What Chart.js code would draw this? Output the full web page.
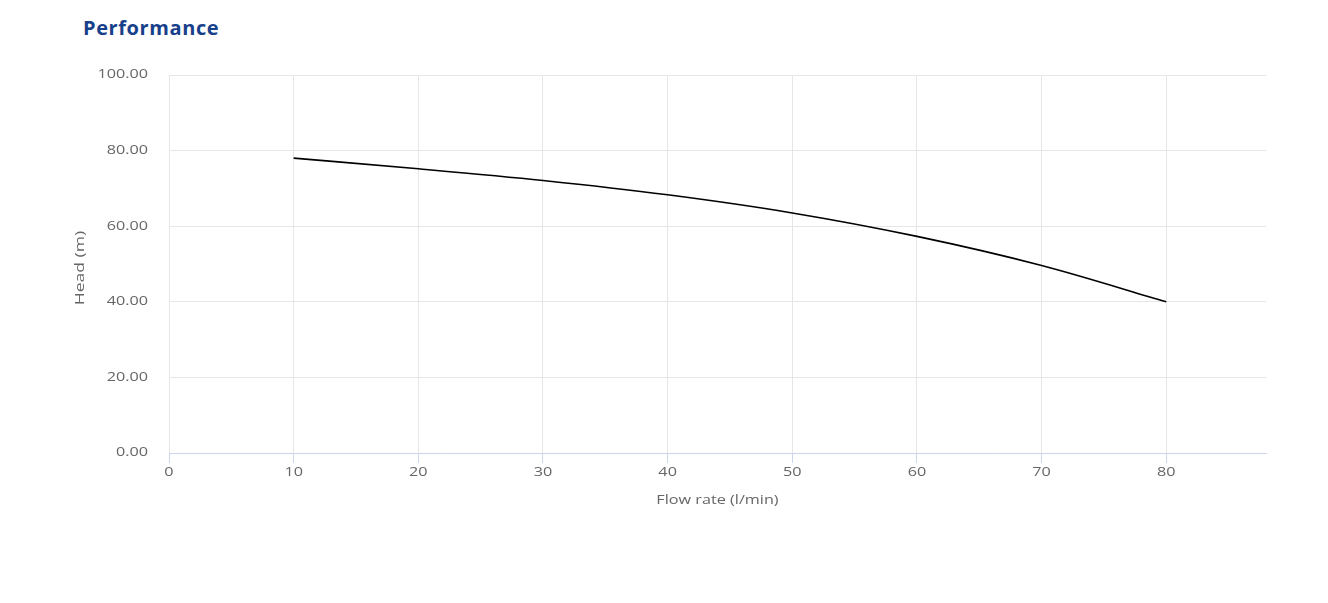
<!DOCTYPE html>
<html>
<head>
<meta charset="utf-8">
<title>Performance</title>
<script src="https://cdn.jsdelivr.net/npm/chart.js@4"></script>
<style>
  html, body { margin: 0; padding: 0; background: #fff; }
  #wrap { position: relative; width: 1328px; height: 603px; }
  #title {
    position: absolute; left: 83px; top: 14px;
    font-family: "Open Sans", sans-serif; font-weight: bold; font-size: 20px;
    letter-spacing: 0.6px;
    color: #17408b;
  }
  canvas { position: absolute; left: 0; top: 0; }
</style>
</head>
<body>
<div id="wrap">
  <div id="title">Performance</div>
  <canvas id="perf-chart" width="1328" height="603"></canvas>
</div>
<script>
// 数据
const flowRate = [10, 20, 30, 40, 50, 60, 70, 80];
const head = [78.0, 75.2, 72.1, 68.3, 63.5, 57.3, 49.6, 40.0];
const xTicks = [0, 10, 20, 30, 40, 50, 60, 70, 80];
const yTicks = [0, 20, 40, 60, 80, 100];
const yTitle = 'Head (m)';

// 原图的文字被拉宽了，这里把 fillText 沿文字方向放大
const stretchX = 1.35;
const ctx = document.getElementById('perf-chart').getContext('2d');
const plainFillText = ctx.fillText.bind(ctx);
ctx.fillText = function(text, x, y, maxWidth) {
    ctx.save();
    ctx.translate(x, y);
    ctx.scale(stretchX, 1);
    if (maxWidth !== undefined) {
        plainFillText(text, 0, 0, maxWidth / stretchX);
    } else {
        plainFillText(text, 0, 0);
    }
    ctx.restore();
};

// 纵轴标题单独画
const yTitlePlugin = {
    id: 'yTitle',
    afterDraw(chart) {
        const c = chart.ctx;
        const area = chart.chartArea;
        c.save();
        c.font = '13px "Open Sans"';
        c.fillStyle = '#666666';
        c.textAlign = 'center';
        c.textBaseline = 'middle';
        c.translate(80, (area.top + area.bottom) / 2 + 4);
        c.rotate(-Math.PI / 2);
        c.fillText(yTitle, 0, 0);
        c.restore();
    }
};

const perfChart = new Chart(ctx, {
    type: 'line',
    data: {
        datasets: [{
            label: 'Head',
            data: flowRate.map((x, i) => ({ x, y: head[i] })),
            borderColor: '#000000',
            borderWidth: 1.6,
            pointRadius: 0,
            cubicInterpolationMode: 'monotone',
            fill: false
        }]
    },
    options: {
        responsive: false,
        animation: false,
        layout: { padding: { left: 0, right: 62, top: 75, bottom: 90 } },
        plugins: { legend: { display: false }, tooltip: { enabled: false } },
        scales: {
            x: {
                type: 'linear',
                min: 0,
                max: 88,
                afterBuildTicks: (scale) => { scale.ticks = xTicks.map(v => ({ value: v })); },
                afterFit: (scale) => { scale.height = 60; },
                grid: { color: '#e6e6e6', tickColor: '#ccd6eb', tickLength: 10 },
                border: { color: '#ccd6eb', width: 1 },
                ticks: {
                    padding: 2,
                    color: '#666666',
                    font: { family: 'Open Sans', size: 12 },
                    maxRotation: 0
                },
                title: {
                    display: true,
                    text: 'Flow rate (l/min)',
                    color: '#666666',
                    font: { family: 'Open Sans', size: 12 },
                    padding: { top: 0, bottom: 5 }
                }
            },
            y: {
                min: 0,
                max: 100,
                afterBuildTicks: (scale) => { scale.ticks = yTicks.map(v => ({ value: v })); },
                afterFit: (scale) => { scale.width = 169; },
                grid: { color: '#e6e6e6', drawTicks: false },
                border: { display: false },
                ticks: {
                    padding: 21,
                    color: '#666666',
                    font: { family: 'Open Sans', size: 12 },
                    callback: (value) => Number(value).toFixed(2)
                },
                title: { display: false }
            }
        }
    },
    plugins: [yTitlePlugin]
});
</script>
</body>
</html>
